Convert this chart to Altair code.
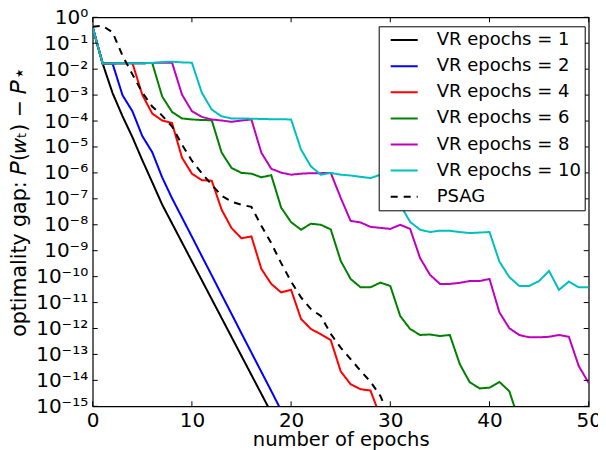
import altair as alt
import pandas as pd

# series names, colours, dash patterns
names = ["VR epochs = 1", "VR epochs = 2", "VR epochs = 4", "VR epochs = 6",
         "VR epochs = 8", "VR epochs = 10", "PSAG"]
colors = ["#000000", "#0000ff", "#ff0000", "#008000", "#bf00bf", "#00bfbf", "#000000"]
dashes = [[1, 0], [1, 0], [1, 0], [1, 0], [1, 0], [1, 0], [7, 6]]

# log10 of optimality gap, one value per epoch starting at epoch 0
vr1 = [-0.39, -1.78, -2.92, -3.81, -4.62, -5.51, -6.36, -7.22, -7.95, -8.68,
       -9.41, -10.14, -10.87, -11.60, -12.33, -13.06, -13.79, -14.52, -15.25]
vr2 = [-0.39, -1.78, -1.78, -3.00, -3.62, -4.58, -5.20, -6.17, -6.98, -7.72,
       -8.46, -9.21, -9.95, -10.70, -11.44, -12.19, -12.93, -13.67, -14.41, -15.16]
vr4 = [-0.39, -1.78, -1.78, -1.77, -1.76, -2.99, -3.71, -3.98, -4.08, -5.41,
       -6.03, -6.28, -6.30, -7.42, -8.13, -8.52, -8.45, -9.70, -10.28, -10.61,
       -10.51, -11.63, -12.02, -12.22, -12.45, -13.65, -14.15, -14.34, -14.39, -15.4]
vr6 = [-0.39, -1.78, -1.78, -1.77, -1.77, -1.77, -1.76, -3.05, -3.65, -3.90,
       -3.94, -3.96, -3.97, -5.22, -5.81, -6.00, -6.03, -6.17, -6.09, -7.34,
       -7.90, -8.19, -7.96, -8.00, -8.18, -9.39, -10.09, -10.41, -10.41, -10.23,
       -10.36, -11.52, -12.02, -12.25, -12.23, -12.29, -12.25, -13.37, -14.07, -14.31,
       -14.28, -14.06, -14.42, -15.58]
vr8 = [-0.39, -1.78, -1.78, -1.77, -1.77, -1.77, -1.76, -1.75, -1.75, -2.98,
       -3.62, -3.84, -3.94, -3.98, -4.03, -3.98, -3.94, -5.22, -5.84, -5.99,
       -6.07, -6.03, -6.01, -6.01, -6.00, -6.96, -7.85, -7.91, -8.08, -8.12,
       -8.16, -8.00, -8.16, -9.28, -9.93, -10.28, -10.28, -10.24, -10.17, -10.17,
       -10.09, -11.38, -11.99, -12.25, -12.34, -12.34, -12.32, -12.25, -12.32, -13.45,
       -14.1]
vr10 = [-0.39, -1.78, -1.78, -1.77, -1.77, -1.77, -1.76, -1.73, -1.71, -1.74,
        -1.75, -2.91, -3.56, -3.82, -3.90, -3.90, -3.91, -3.92, -3.93, -3.93,
        -3.94, -5.10, -5.75, -6.07, -6.00, -6.07, -6.10, -6.15, -6.20, -6.07,
        -6.10, -7.23, -7.89, -8.19, -8.28, -8.23, -8.23, -8.28, -8.32, -8.30,
        -8.28, -9.42, -10.02, -10.36, -10.36, -10.17, -9.78, -10.51, -10.19, -10.41,
        -10.41]
psag = [-0.36, -0.33, -0.58, -1.47, -2.20, -2.90, -3.44, -3.79, -4.21, -4.91,
        -5.53, -6.01, -6.46, -6.88, -7.11, -7.23, -7.31, -8.04, -8.71, -9.48,
        -10.19, -10.80, -11.25, -11.52, -12.21, -12.74, -13.18, -13.63, -14.05, -14.6,
        -15.5]

x_ticks = [0, 10, 20, 30, 40, 50]
exponents = list(range(0, 16))
sup = str.maketrans("0123456789-", "⁰¹²³⁴⁵⁶⁷⁸⁹⁻")
y_labels = ["10" + str(-k).translate(sup) for k in exponents]
y_ticks = [10.0 ** (-k) for k in exponents]

rows = []
for name, series in zip(names, [vr1, vr2, vr4, vr6, vr8, vr10, psag]):
    for i, e in enumerate(series):
        rows.append({"series": name, "epoch": i, "gap": 10.0 ** e})
df = pd.DataFrame(rows)

W, H = 496, 389
xscale = alt.Scale(domain=[0, 50], nice=False, zero=False)
yscale = alt.Scale(type="log", domain=[1e-15, 1], nice=False)

label_js = "[" + ",".join("'%s'" % s for s in y_labels) + "]"

legend = alt.Legend(
    title=None, orient="none", legendX=286, legendY=9,
    strokeColor="black", fillColor="white", padding=3.8,
    symbolType="M-1.5,0L1.5,0", symbolSize=324, symbolStrokeWidth=2,
    symbolOffset=11.7, labelOffset=22.5, labelFontSize=18, rowPadding=7.1,
    labelLimit=300, labelColor="black",
)

lines = alt.Chart(df).mark_line(strokeWidth=2, clip=True).encode(
    x=alt.X("epoch:Q", scale=xscale, axis=alt.Axis(
        values=x_ticks, ticks=False, domain=False, grid=False, labelFlush=False,
        labelFontSize=20, labelPadding=4, labelColor="black",
        title="number of epochs", titleFontSize=19.5, titleFontWeight="normal",
        titleColor="black", titleY=39, titleBaseline="alphabetic")),
    y=alt.Y("gap:Q", scale=yscale, axis=alt.Axis(
        values=y_ticks, labelExpr=label_js + "[round(-log(datum.value)/LN10)]",
        ticks=False, domain=False, grid=False, labelFlush=False,
        labelFontSize=20, labelPadding=5,
        labelColor="black", labelBaseline="middle",
        title="optimality gap: 𝑃(𝑤ₜ) − 𝑃⋆", titleFontSize=20.5, titleFontWeight="normal",
        titleColor="black", titleX=-73, titleY=184, titleAngle=-90,
        titleAlign="center", titleBaseline="middle")),
    color=alt.Color("series:N", scale=alt.Scale(domain=names, range=colors), legend=legend),
    strokeDash=alt.StrokeDash("series:N", scale=alt.Scale(domain=names, range=dashes), legend=legend),
    order="epoch:Q",
)

ydf = pd.DataFrame({"gap": y_ticks})
xdf = pd.DataFrame({"epoch": x_ticks})
yt_left = alt.Chart(ydf).mark_rule(color="black", strokeWidth=1).encode(
    y=alt.Y("gap:Q", scale=yscale), x=alt.value(0), x2=alt.value(5))
yt_right = alt.Chart(ydf).mark_rule(color="black", strokeWidth=1).encode(
    y=alt.Y("gap:Q", scale=yscale), x=alt.value(W), x2=alt.value(W - 5))
xt_bot = alt.Chart(xdf).mark_rule(color="black", strokeWidth=1).encode(
    x=alt.X("epoch:Q", scale=xscale), y=alt.value(H), y2=alt.value(H - 5))
xt_top = alt.Chart(xdf).mark_rule(color="black", strokeWidth=1).encode(
    x=alt.X("epoch:Q", scale=xscale), y=alt.value(0), y2=alt.value(5))

chart = alt.layer(lines, yt_left, yt_right, xt_bot, xt_top).properties(
    width=W, height=H, autosize="none",
    padding={"left": 84.7, "top": 9.3, "right": 9.3, "bottom": 43.7},
).configure(font="DejaVu Sans").configure_view(stroke="black", strokeWidth=1.2)

chart.save("out.html", embed_options={"renderer": "svg", "actions": False})
